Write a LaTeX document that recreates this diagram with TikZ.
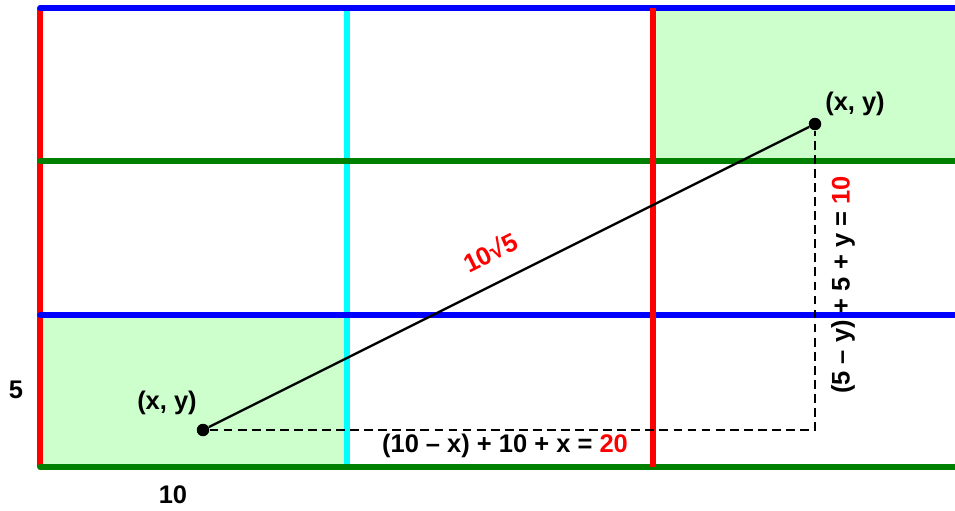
\documentclass[tikz,border=0pt]{standalone}
\usepackage{fontspec}
\setmainfont{Liberation Sans}
\usepackage{xcolor}
\usepackage{tikz}

\definecolor{gridcyan}{RGB}{0,255,255}
\definecolor{gridgreen}{RGB}{0,128,0}
\definecolor{gridred}{RGB}{255,0,0}
\definecolor{gridblue}{RGB}{0,0,255}
\definecolor{cellgreen}{RGB}{204,255,204}

\begin{document}
\begin{tikzpicture}[x=0.2mm, y=-0.2mm,
    lbl/.style={font=\bfseries\fontsize{14.5}{16}\selectfont},
    gridline/.style={line width=1.15mm},
    dot/.style={circle, fill=black, inner sep=0pt, minimum size=2.5mm}]
    \useasboundingbox (0,0) rectangle (955,510);

    % shaded cells
    \fill[cellgreen] (653,8) rectangle (960,161);
    \fill[cellgreen] (40,315) rectangle (347,467);

    % grid
    \draw[gridline, gridred] (40,8) -- (40,467);
    \foreach \x in {347,959}
        \draw[gridline, gridcyan] (\x,8) -- (\x,469);
    \foreach \y/\c in {8/gridblue,161/gridgreen,315/gridblue,467/gridgreen}
        \draw[gridline, \c, line cap=round] (40,\y) -- (965,\y);
    \draw[gridline, gridred] (653,8) -- (653,467);

    % points
    \node[dot] (p1) at (203,430) {};
    \node[dot] (p2) at (815,124) {};
    \coordinate (corner) at (815,430);

    \draw[line width=0.45mm] (p1) -- (p2);
    \draw[line width=0.45mm, dash pattern=on 5pt off 3pt] (p1) -- (corner) -- (p2);

    \node[lbl] (l1) at (167,403) {(x, y)};
    \node[lbl] (l2) at (855,104) {(x, y)};
    \node[lbl, gridred, rotate=26.57] (diag) at (490,252) {10√5};
    \node[lbl] (horiz) at (505,446) {(10 – x) + 10 + x = \textcolor{gridred}{20}};
    \node[lbl, rotate=90] (vert) at (843,285) {(5 – y) + 5 + y = \textcolor{gridred}{10}};

    \node[lbl] (five) at (16,390) {5};
    \node[lbl] (ten) at (173,495) {10};
\end{tikzpicture}
\end{document}
